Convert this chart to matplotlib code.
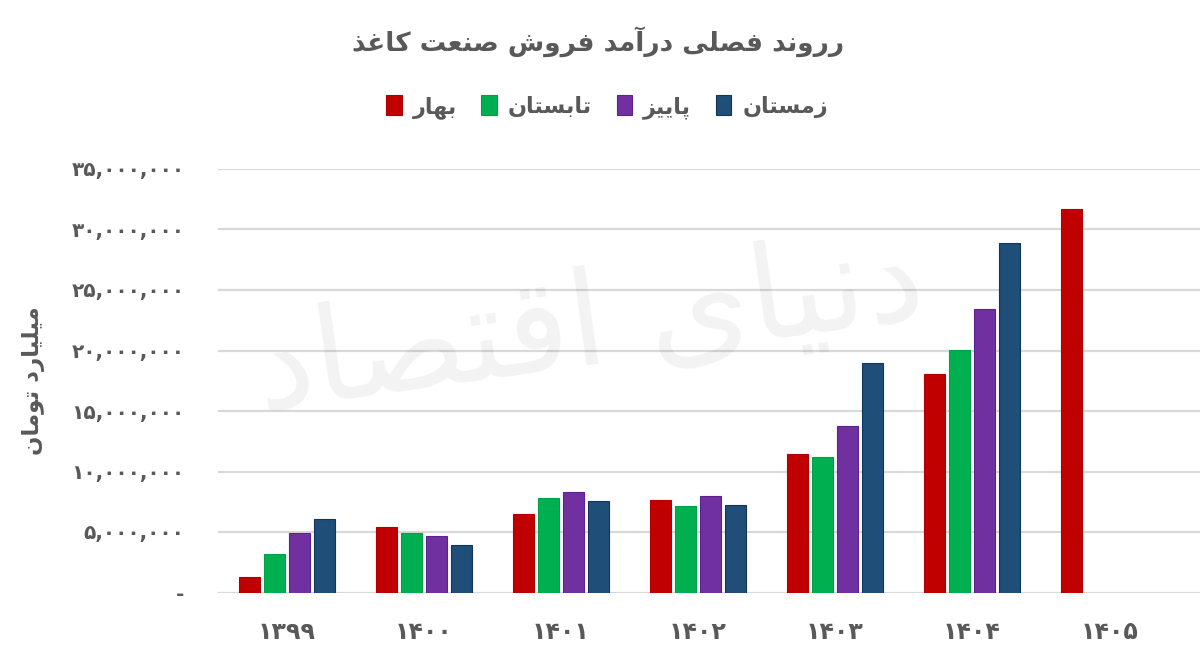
import numpy as np
import matplotlib
matplotlib.use("Agg")
import matplotlib.pyplot as plt
from matplotlib.ticker import FuncFormatter

# data, toman
years = ["1399", "1400", "1401", "1402", "1403", "1404", "1405"]
spring = [1.28e6, 5.41e6, 6.49e6, 7.64e6, 11.45e6, 18.06e6, 31.69e6]
summer = [3.18e6, 4.89e6, 7.81e6, 7.15e6, 11.2e6, 20.04e6, np.nan]
autumn = [4.89e6, 4.64e6, 8.28e6, 7.98e6, 13.8e6, 23.43e6, np.nan]
winter = [6.05e6, 3.90e6, 7.54e6, 7.23e6, 18.94e6, 28.88e6, np.nan]

season_names = ["بهار", "تابستان", "پاییز", "زمستان"]
colors = ["#C00000", "#00B050", "#7030A0", "#1F4E79"]
edges = ["#B00000", "#00A048", "#5B2190", "#12355A"]
title = "رروند فصلی درآمد فروش صنعت کاغذ"
ylabel = "میلیارد تومان"
watermark = "دنیای اقتصاد"

# --- minimal arabic shaping (matplotlib has no shaping engine) ---
FORMS = {
    "ا": ("\uFE8D", "\uFE8E", None, None),
    "آ": ("\uFE81", "\uFE82", None, None),
    "ب": ("\uFE8F", "\uFE90", "\uFE91", "\uFE92"),
    "پ": ("\uFB56", "\uFB57", "\uFB58", "\uFB59"),
    "ت": ("\uFE95", "\uFE96", "\uFE97", "\uFE98"),
    "د": ("\uFEA9", "\uFEAA", None, None),
    "ذ": ("\uFEAB", "\uFEAC", None, None),
    "ر": ("\uFEAD", "\uFEAE", None, None),
    "ز": ("\uFEAF", "\uFEB0", None, None),
    "س": ("\uFEB1", "\uFEB2", "\uFEB3", "\uFEB4"),
    "ش": ("\uFEB5", "\uFEB6", "\uFEB7", "\uFEB8"),
    "ص": ("\uFEB9", "\uFEBA", "\uFEBB", "\uFEBC"),
    "ع": ("\uFEC9", "\uFECA", "\uFECB", "\uFECC"),
    "غ": ("\uFECD", "\uFECE", "\uFECF", "\uFED0"),
    "ف": ("\uFED1", "\uFED2", "\uFED3", "\uFED4"),
    "ق": ("\uFED5", "\uFED6", "\uFED7", "\uFED8"),
    "ک": ("\uFB8E", "\uFB8F", "\uFB90", "\uFB91"),
    "ل": ("\uFEDD", "\uFEDE", "\uFEDF", "\uFEE0"),
    "م": ("\uFEE1", "\uFEE2", "\uFEE3", "\uFEE4"),
    "ن": ("\uFEE5", "\uFEE6", "\uFEE7", "\uFEE8"),
    "ه": ("\uFEE9", "\uFEEA", "\uFEEB", "\uFEEC"),
    "و": ("\uFEED", "\uFEEE", None, None),
    "ی": ("\uFBFC", "\uFBFD", "\uFBFE", "\uFBFF"),
}


def shape(text):
    out = []
    for i, c in enumerate(text):
        if c not in FORMS:
            out.append(c)
            continue
        prev = text[i - 1] if i > 0 else ""
        nxt = text[i + 1] if i + 1 < len(text) else ""
        join_prev = prev in FORMS and FORMS[prev][2] is not None
        join_next = FORMS[c][2] is not None and nxt in FORMS
        iso, fin, ini, med = FORMS[c]
        if join_prev and join_next:
            out.append(med)
        elif join_prev:
            out.append(fin)
        elif join_next:
            out.append(ini)
        else:
            out.append(iso)
    return "".join(out)[::-1]


def fa_digits(s):
    return s.translate(str.maketrans("0123456789", "۰۱۲۳۴۵۶۷۸۹"))


plt.rcParams["font.family"] = ["DejaVu Sans"]
txt = "#595959"

fig = plt.figure(figsize=(12, 6.56), dpi=100)
ax = fig.add_axes([218 / 1200, 1 - 592.5 / 656, 982 / 1200, 423.5 / 656])

x = np.arange(len(years))
step = 25 / 137.1
width = 21 / 137.1
series = [spring, summer, autumn, winter]
for k, vals in enumerate(series):
    ax.bar(x + (k - 1.5) * step, vals, width, color=colors[k],
           edgecolor=edges[k], linewidth=0.8, zorder=3,
           label=shape(season_names[k]))

ax.set_xlim(-0.5, -0.5 + 982 / 137.1)
ax.set_ylim(0, 35e6)
ax.set_yticks(np.arange(0, 35e6 + 1, 5e6))
ax.yaxis.set_major_formatter(FuncFormatter(
    lambda v, p: "-" if v == 0 else fa_digits(f"{v:,.0f}")))
ax.set_xticks(x)
ax.set_xticklabels([fa_digits(y) for y in years])
ax.grid(axis="y", color="#d9d9d9", linewidth=1.6, zorder=0)
ax.set_axisbelow(True)
for s in ax.spines.values():
    s.set_visible(False)
ax.tick_params(axis="y", length=0, pad=24, labelsize=14.5, labelcolor=txt)
ax.tick_params(axis="x", length=0, pad=20, labelsize=17, labelcolor=txt)
for lab in ax.get_xticklabels() + ax.get_yticklabels():
    lab.set_fontweight("bold")

ax.set_ylabel(shape(ylabel), fontsize=16.5, color=txt, fontweight="bold")
ax.yaxis.set_label_coords(45 / 1200, (656 - 381) / 656, transform=fig.transFigure)

fig.text(598 / 1200, 1 - 42 / 656, shape(title), ha="center", va="center",
         fontsize=19, fontweight="bold", color=txt)

fig.legend(loc="center", bbox_to_anchor=(607 / 1200, 1 - 107 / 656), ncol=4,
           frameon=False, prop={"size": 16, "weight": "bold"}, labelcolor=txt,
           handlelength=0.7, handleheight=1.0, handletextpad=0.5,
           columnspacing=1.1)

# faint watermark over the plot
fig.text(590 / 1200, 1 - 328 / 656, shape(watermark), ha="center", va="center",
         fontsize=95, color="#000000", alpha=0.05, rotation=8, zorder=10)

fig.savefig("out.png", dpi=100)
